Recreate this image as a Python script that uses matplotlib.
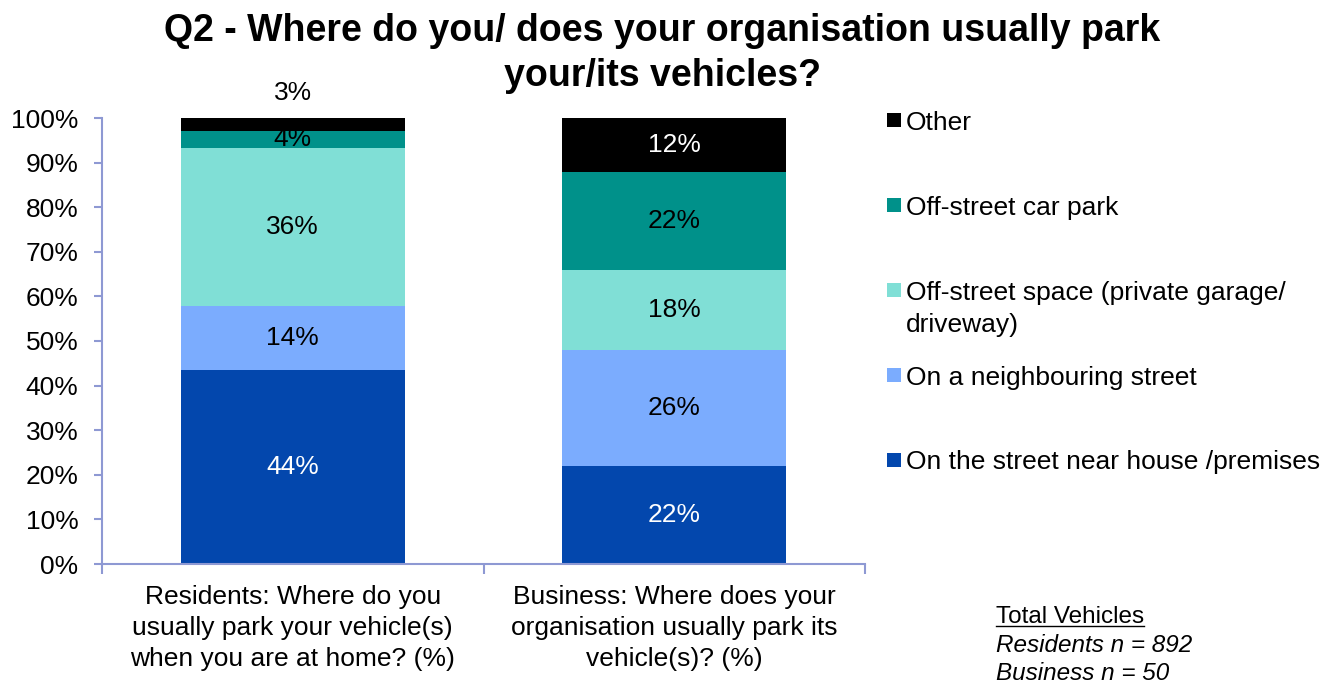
import matplotlib
matplotlib.use("Agg")
import matplotlib.pyplot as plt
from matplotlib.patches import Rectangle
from matplotlib.lines import Line2D

plt.rcParams['font.family'] = ['Liberation Sans', 'DejaVu Sans']

# Survey data (percent of respondents, per group)
groups = ["Residents: Where do you\nusually park your vehicle(s)\nwhen you are at home? (%)",
          "Business: Where does your\norganisation usually park its\nvehicle(s)? (%)"]
series = ["On the street near house /premises",
          "On a neighbouring street",
          "Off-street space (private garage/\ndriveway)",
          "Off-street car park",
          "Other"]
street_near = [43.5, 22.0]
neighbouring = [14.3, 26.0]
offstreet_space = [35.5, 18.0]
offstreet_carpark = [3.8, 22.0]
other = [2.9, 12.0]
values = [street_near, neighbouring, offstreet_space, offstreet_carpark, other]

colors = ["#0347AD", "#7BACFE", "#80DFD6", "#00918A", "#000000"]
label_colors = ["white", "black", "black", "black", "white"]
yticks = [0, 10, 20, 30, 40, 50, 60, 70, 80, 90, 100]
title_lines = ["Q2 - Where do you/ does your organisation usually park",
               "your/its vehicles?"]

axis_col = "#8E99D3"
FS = 19

fig = plt.figure(figsize=(13.27, 6.84), dpi=100)
W, H = 1327, 684
ax = fig.add_axes([102 / W, 1 - 564 / H, (865 - 102) / W, (564 - 118) / H])

x = [0, 1]
width = 0.588
bottoms = [0.0, 0.0]
for vals, col, lcol, name in zip(values, colors, label_colors, series):
    ax.bar(x, vals, width, bottom=bottoms, color=col, edgecolor='none', label=name)
    for i, v in enumerate(vals):
        if i == 0 and name == "Other":
            # too thin to hold its label: put it above the bar, in black
            ax.text(x[i], bottoms[i] + v + 3.0, f"{v:.0f}%", ha='center', va='bottom',
                    fontsize=FS, color='black')
        else:
            ax.text(x[i], bottoms[i] + v / 2, f"{v:.0f}%", ha='center', va='center',
                    fontsize=FS, color=lcol)
    bottoms = [b + v for b, v in zip(bottoms, vals)]

ax.set_xlim(-0.5, 1.5)
ax.set_ylim(0, 100)
ax.set_yticks(yticks)
ax.set_yticklabels([f"{t}%" for t in yticks])
ax.tick_params(axis='y', labelsize=FS, colors=axis_col, labelcolor='black',
               length=6, width=1.5, pad=11)
ax.set_xticks(x)
ax.set_xticklabels(groups)
ax.tick_params(axis='x', which='major', length=0, labelsize=FS, pad=15)
ax.set_xticks([-0.5, 0.5, 1.5], minor=True)
ax.tick_params(axis='x', which='minor', length=7, width=1.5, colors=axis_col)
for lbl in ax.get_xticklabels():
    lbl.set_linespacing(1.38)
for s in ['top', 'right']:
    ax.spines[s].set_visible(False)
for s in ['left', 'bottom']:
    ax.spines[s].set_color(axis_col)
    ax.spines[s].set_linewidth(1.5)

# Two-line bold title
for line, ypix in zip(title_lines, [27, 72]):
    fig.text(0.499, 1 - ypix / H, line, ha='center', va='center_baseline',
             fontsize=27, fontweight='bold')

# Legend drawn in figure pixels, top entry first
leg_items = [("Other", 120, colors[4]),
             ("Off-street car park", 205, colors[3]),
             ("Off-street space (private garage/\ndriveway)", 290, colors[2]),
             ("On a neighbouring street", 375, colors[1]),
             ("On the street near house /premises", 460, colors[0])]
line_px = 32
for text, ypix, col in leg_items:
    sq = 14
    fig.add_artist(Rectangle((887 / W, 1 - (ypix + sq / 2) / H), sq / W, sq / H,
                             transform=fig.transFigure, color=col, lw=0))
    for k, part in enumerate(text.split("\n")):
        fig.text(906 / W, 1 - (ypix + k * line_px) / H, part, ha='left',
                 va='center_baseline', fontsize=FS)

# Sample sizes note
t = fig.text(996 / W, 1 - 617 / H, "Total Vehicles", ha='left', va='center', fontsize=17.5)
fig.text(996 / W, 1 - 645 / H, "Residents n = 892", ha='left', va='center',
         fontsize=17.5, style='italic')
fig.text(996 / W, 1 - 673 / H, "Business n = 50", ha='left', va='center',
         fontsize=17.5, style='italic')
fig.canvas.draw()
bb = t.get_window_extent().transformed(fig.transFigure.inverted())
fig.add_artist(Line2D([bb.x0, bb.x1], [bb.y0 + 0.003, bb.y0 + 0.003],
                      transform=fig.transFigure, color='black', lw=1))

fig.savefig("out.png", dpi=100)
